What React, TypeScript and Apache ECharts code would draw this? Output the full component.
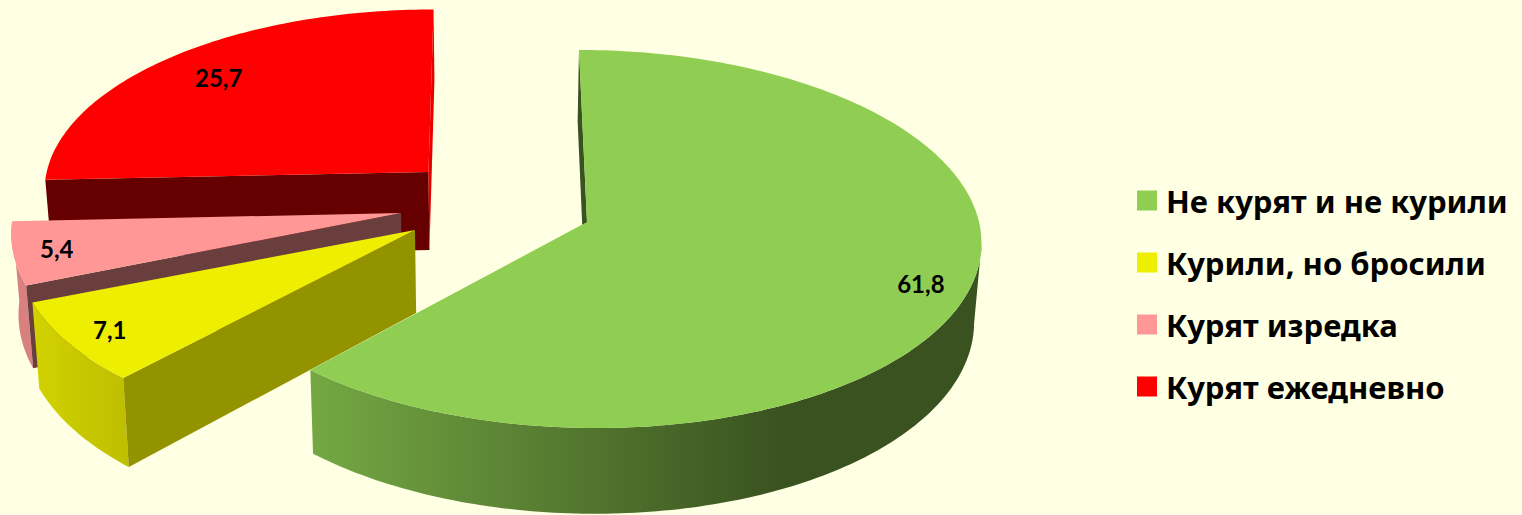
import React, { useEffect, useRef } from "react";
import * as echarts from "echarts";

const categories = ["Не курят и не курили", "Курили, но бросили", "Курят изредка", "Курят ежедневно"];
const values = [61.8, 7.1, 5.4, 25.7];

const WIDTH = 1522;
const HEIGHT = 515;
const LEGEND_FONT = '"Noto Sans"';
const LABEL_FONT = "Lato";

// Perspective camera for the 3D look
const center = [587, 222];
const RX = 392;
const RY = 187.5;
const K = 0.09;
const VX = 490;
const CONV = 0.015;

const sliceStyles = [
  {
    top: "#8fce52", explode: [0, 0], scaleX: 1, scaleY: 1, depth: 78, labelAt: 0.88,
    stops: [[0, "#74a843"], [0.7, "#3a5220"], [1, "#3a5220"]],
    startFace: "#3a5220", endFace: null,
  },
  {
    top: "#eeee00", explode: [-172, 8], scaleX: 1.01, scaleY: 1, depth: 83, labelAt: 0.885,
    stops: [[0, "#d2d200"], [1, "#bebe00"]],
    startFace: "#939300", endFace: null,
  },
  {
    top: "#ff9797", explode: [-186, -9], scaleX: 0.988, scaleY: 1, depth: 80, labelAt: 0.89,
    stops: [[0, "#d98080"], [1, "#d98080"]],
    startFace: "#6b3e3e", endFace: null,
  },
  {
    top: "#ff0000", explode: [-158.5, -50], scaleX: 0.974, scaleY: 0.945, depth: 78, labelAt: 0.81,
    stops: [[0, "#d90000"], [1, "#d90000"]],
    startFace: "#660000", endFace: "#e60000",
  },
];

const total = values.reduce((a, b) => a + b, 0);
const starts = values.map((_, i) => values.slice(0, i).reduce((a, b) => a + b, 0));

type Pt = { x: number; y: number; s: number };

function renderSlice(index: number) {
  const st = sliceStyles[index];
  const project = (theta: number, r: number, ax: number, ay: number): Pt => {
    const X = r * Math.sin(theta);
    const Y = r * Math.cos(theta);
    const s = 1 / (1 + K * Y);
    return {
      x: VX + (ax - VX + RX * st.scaleX * X) * s,
      y: ay - RY * st.scaleY * Y * s,
      s,
    };
  };
  const lower = (p: Pt) => [p.x + (VX - p.x) * CONV, p.y + st.depth * p.s];
  const upper = (p: Pt) => [p.x, p.y];

  return (_params: any, api: any) => {
    const value = api.value(0);
    const start = api.value(1);
    const a0 = (start / total) * Math.PI * 2;
    const a1 = ((start + value) / total) * Math.PI * 2;
    const ax = center[0] + st.explode[0];
    const ay = center[1] + st.explode[1];
    const steps = Math.max(4, Math.ceil((a1 - a0) / (Math.PI / 180)));
    const rim: Pt[] = [];
    for (let i = 0; i <= steps; i++) {
      rim.push(project(a0 + ((a1 - a0) * i) / steps, 1, ax, ay));
    }
    const apex = project(0, 0, ax, ay);
    const children: any[] = [];
    const rimFill = new echarts.graphic.LinearGradient(
      0, 0, 1, 0,
      st.stops.map(([offset, color]) => ({ offset: offset as number, color: color as string })),
    );
    // The outer wall is seen only from the rightmost point of the rim onwards.
    let iRight = 0;
    rim.forEach((p, i) => {
      if (p.x > rim[iRight].x) iRight = i;
    });
    const frontRim = rim.slice(iRight);
    if (frontRim.length > 1) {
      children.push({
        type: "polygon",
        shape: { points: [...frontRim.map(upper), ...frontRim.slice().reverse().map(lower)] },
        style: { fill: rimFill },
      });
    }
    const face = (p: Pt, fill: string) => ({
      type: "polygon",
      shape: { points: [upper(p), upper(apex), lower(apex), lower(p)] },
      style: { fill },
    });
    children.push(face(rim[0], st.startFace));
    if (st.endFace) children.push(face(rim[rim.length - 1], st.endFace));
    children.push({
      type: "polygon",
      shape: { points: [upper(apex), ...rim.map(upper)] },
      style: { fill: st.top },
    });
    const lp = project((a0 + a1) / 2, st.labelAt, ax, ay);
    children.push({
      type: "text",
      style: {
        x: lp.x,
        y: lp.y,
        text: value.toFixed(1).replace(".", ","),
        fill: "#000000",
        font: `bold 24px ${LABEL_FONT}`,
        align: "center",
        verticalAlign: "middle",
      },
    });
    return { type: "group", children };
  };
}

// Painted from back to front.
const drawOrder = [3, 2, 1, 0];

export default function App() {
  const ref = useRef<HTMLDivElement>(null);
  useEffect(() => {
    document.body.style.margin = "0";
    const chart = echarts.init(ref.current as HTMLDivElement, undefined, { renderer: "svg" });
    chart.setOption({
      animation: false,
      backgroundColor: "#ffffe3",
      legend: {
        orient: "vertical",
        left: 1137,
        top: 185,
        padding: 0,
        icon: "rect",
        itemWidth: 20,
        itemHeight: 20,
        itemGap: 31,
        selectedMode: false,
        data: categories,
        textStyle: {
          fontFamily: LEGEND_FONT,
          fontWeight: "bold",
          fontSize: 31,
          lineHeight: 30,
          color: "#000000",
          padding: [0, 0, 0, 4],
        },
      },
      series: drawOrder.map((i) => ({
        type: "custom",
        name: categories[i],
        coordinateSystem: "none",
        silent: true,
        itemStyle: { color: sliceStyles[i].top },
        renderItem: renderSlice(i),
        data: [[values[i], starts[i]]],
      })),
    });
    return () => chart.dispose();
  }, []);
  return <div ref={ref} style={{ position: "fixed", left: 0, top: 0, width: WIDTH, height: HEIGHT }} />;
}
